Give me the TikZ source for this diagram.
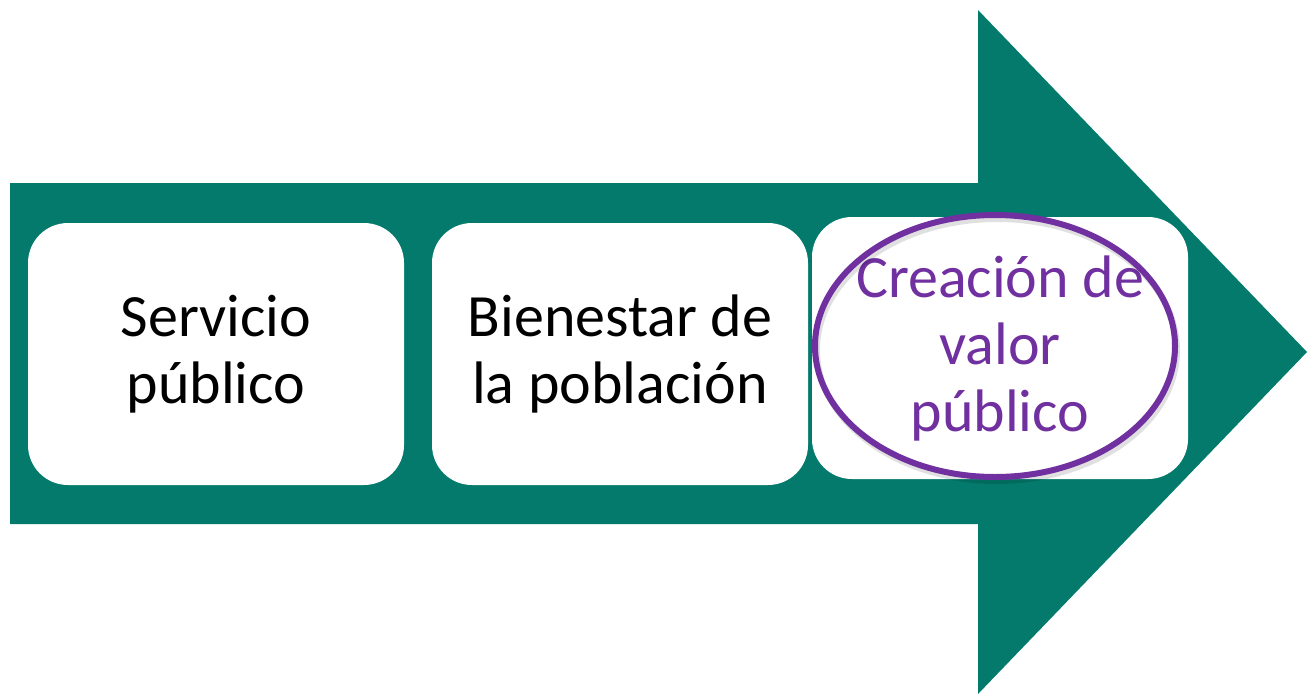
\documentclass[tikz,border=0pt]{standalone}
\usepackage{fontspec}
\setmainfont{Carlito}
\usetikzlibrary{positioning,shapes.geometric}

\definecolor{arrowteal}{RGB}{3,122,107}
\definecolor{valorpurple}{RGB}{112,48,160}

\tikzset{
    stagebox/.style={fill=white,rounded corners=40pt,minimum width=376pt,minimum height=262pt,
        align=center,font=\fontsize{60}{67}\selectfont},
    highlight/.style={draw=valorpurple,line width=6pt,ellipse,minimum width=360pt,minimum height=262pt,inner sep=0pt}
}

\begin{document}
\begin{tikzpicture}[x=1pt,y=-1pt]
    \useasboundingbox (0,0) rectangle (1307,694);
    % arrow outline
    \coordinate (S1) at (10,183);
    \coordinate (S2) at (978,183);
    \coordinate (H1) at (978,10);
    \coordinate (T)  at (1307,352);
    \coordinate (H2) at (978,694);
    \coordinate (S3) at (978,524);
    \coordinate (S4) at (10,524);
    \fill[arrowteal] (S1) -- (S2) -- (H1) -- (T) -- (H2) -- (S3) -- (S4) -- cycle;

    \node[stagebox] (servicio) at (216,354) {Servicio\\público};
    \node[stagebox] (bienestar) at (620,354) {Bienestar de\\la población};
    \node[stagebox,text=valorpurple] (valor) at (1000,348) {Creación de\\valor\\público};

    % ring round the last stage
    \node[highlight,draw=black,draw opacity=0.12] (ringshadow) at (997,350) {};
    \node[highlight] (ring) at (995,346) {};
\end{tikzpicture}
\end{document}
